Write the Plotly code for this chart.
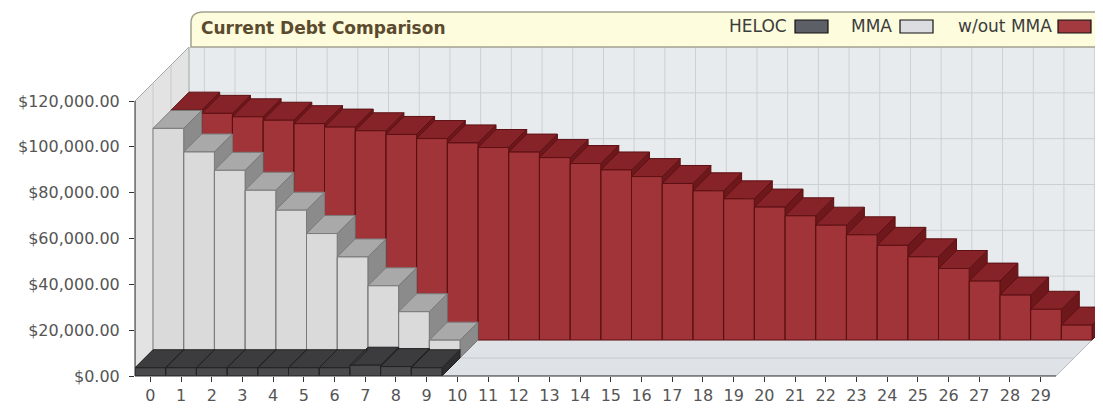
import plotly.graph_objects as go

# ---------------- data ----------------
categories = list(range(30))
heloc = [3600, 3600, 3600, 3600, 3600, 3600, 3600, 4700, 4100, 3600]
mma = [100200, 89900, 81900, 73200, 64500, 54300, 44100, 31500, 20200, 7800]
without_mma = [100300, 98900, 97400, 95900, 94400, 92900, 91300, 89700, 87900, 86000,
               84000, 82000, 79600, 77000, 74200, 71300, 68300, 65100, 61600, 58000,
               54200, 50100, 45900, 41300, 36300, 31200, 25700, 19600, 13400, 6500]
series_names = ["HELOC", "MMA", "w/out MMA"]
y_tick_values = [0, 20000, 40000, 60000, 80000, 100000, 120000]
title_text = "Current Debt Comparison"

# ---------------- geometry (target page pixels) ----------------
PAGE_W, PAGE_H = 1103, 408
BODY_OFF = 8                       # default body margin of the html page
PLOT_LEFT, PLOT_TOP, PLOT_BOTTOM = 135, 47, 376   # page pixels
FIG_W, FIG_H = PAGE_W - BODY_OFF, PAGE_H - BODY_OFF
M_L = PLOT_LEFT - BODY_OFF
M_T = PLOT_TOP - BODY_OFF
M_B = FIG_H - (PLOT_BOTTOM - BODY_OFF)
PLOT_W = FIG_W - M_L
PLOT_H = FIG_H - M_T - M_B
PX_PER_CAT = 30.7
DEPTH_PX = 18
N_ROWS = 3
X0 = -0.5
XSPAN = PLOT_W / PX_PER_CAT
X1 = X0 + XSPAN
PX_PER_VAL = (PLOT_H - N_ROWS * DEPTH_PX) / y_tick_values[-1]
DX = DEPTH_PX / PX_PER_CAT
DY = DEPTH_PX / PX_PER_VAL
YTOP = y_tick_values[-1] + N_ROWS * DY
X_END = categories[-1] + 0.5


def pxp(xp):
    return (xp - PLOT_LEFT) / PLOT_W


def pyp(yp):
    return (PLOT_BOTTOM - yp) / PLOT_H


styles = {
    "HELOC": dict(front="#4a4a4c", top="#3c3c3e", side="#2e2e30", edge="#222222"),
    "MMA": dict(front="#dadada", top="#a9a9a9", side="#8b8b8b", edge="#7a7a7a"),
    "w/out MMA": dict(front="#a13438", top="#862329", side="#6f181c", edge="#5c1013"),
}

fig = go.Figure()


def add_row(values, row, st):
    fx, fy, tx, ty, sx, sy = [], [], [], [], [], []
    for c, v in zip(categories, values):
        xl = c - 0.5 + row * DX
        xr = xl + 1
        y0 = row * DY
        y1 = y0 + v
        fx += [xl, xr, xr, xl, xl, None]
        fy += [y0, y0, y1, y1, y0, None]
        tx += [xl, xr, xr + DX, xl + DX, xl, None]
        ty += [y1, y1, y1 + DY, y1 + DY, y1, None]
        sx += [xr, xr + DX, xr + DX, xr, xr, None]
        sy += [y0, y0 + DY, y1 + DY, y1, y0, None]
    for xs, ys, col in [(sx, sy, st["side"]), (tx, ty, st["top"]), (fx, fy, st["front"])]:
        fig.add_trace(go.Scatter(x=xs, y=ys, mode="lines", fill="toself", fillcolor=col,
                                 line=dict(color=st["edge"], width=1),
                                 hoverinfo="skip", showlegend=False))


series_values = {"HELOC": heloc, "MMA": mma, "w/out MMA": without_mma}
for row in reversed(range(N_ROWS)):
    name = series_names[row]
    add_row(series_values[name], row, styles[name])

shapes = []
# back wall
bx0 = X0 + N_ROWS * DX
shapes.append(dict(type="rect", xref="x", yref="y", x0=bx0, x1=X1 + 2, y0=N_ROWS * DY, y1=YTOP,
                   fillcolor="#e8ebee", line=dict(width=0), layer="below"))
for v in y_tick_values[1:-1]:
    shapes.append(dict(type="line", xref="x", yref="y", x0=bx0, x1=X1 + 2,
                       y0=v + N_ROWS * DY, y1=v + N_ROWS * DY,
                       line=dict(color="#cbd0d5", width=1), layer="below"))
for c in categories:
    shapes.append(dict(type="line", xref="x", yref="y", x0=c + N_ROWS * DX, x1=c + N_ROWS * DX,
                       y0=N_ROWS * DY, y1=YTOP, line=dict(color="#cbd0d5", width=1), layer="below"))
# left wall
lw = (f"M {X0},0 L {X0},{y_tick_values[-1]} L {bx0},{YTOP} L {bx0},{N_ROWS * DY} Z")
shapes.append(dict(type="path", xref="x", yref="y", path=lw, fillcolor="#e3e3e3",
                   line=dict(color="#a5a5a5", width=1), layer="below"))
for r in range(1, N_ROWS):
    shapes.append(dict(type="line", xref="x", yref="y", x0=X0 + r * DX, x1=X0 + r * DX,
                       y0=r * DY, y1=y_tick_values[-1] + r * DY,
                       line=dict(color="#c9c9c9", width=1), layer="below"))
# floor
fl = (f"M {X0},0 L {X_END},0 L {X_END + N_ROWS * DX},{N_ROWS * DY} L {bx0},{N_ROWS * DY} Z")
shapes.append(dict(type="path", xref="x", yref="y", path=fl, fillcolor="#dfe3e7",
                   line=dict(color="#b5babf", width=1), layer="below"))
for r in range(1, N_ROWS):
    shapes.append(dict(type="line", xref="x", yref="y", x0=X0 + r * DX, x1=X_END + r * DX,
                       y0=r * DY, y1=r * DY, line=dict(color="#c4c9ce", width=1), layer="below"))

# axis lines (paper coords)
shapes.append(dict(type="line", xref="paper", yref="paper", x0=0, x1=0, y0=0,
                   y1=y_tick_values[-1] / YTOP, line=dict(color="#333333", width=1)))
shapes.append(dict(type="line", xref="paper", yref="paper", x0=0, x1=(X_END - X0) / XSPAN,
                   y0=0, y1=0, line=dict(color="#333333", width=1)))

# title box
tb = (f"M {pxp(191)},{pyp(47)} L {pxp(191)},{pyp(23)} Q {pxp(191)},{pyp(12)} {pxp(203)},{pyp(12)} "
      f"L {pxp(1110)},{pyp(12)} L {pxp(1110)},{pyp(47)} Z")
shapes.append(dict(type="path", xref="paper", yref="paper", path=tb, fillcolor="#fdfcdc",
                   line=dict(color="#a3a290", width=1.5)))

annotations = [dict(xref="paper", yref="paper", x=pxp(199), y=pyp(28), xanchor="left",
                    yanchor="middle", showarrow=False, text=f"<b>{title_text}</b>",
                    font=dict(family="DejaVu Sans", size=17, color="#5b4a2e"))]

legend_swatch = {"HELOC": "#5d5f66", "MMA": "#dcdde0", "w/out MMA": "#a33a40"}
legend_pos = {"HELOC": (789, 795), "MMA": (894, 900), "w/out MMA": (1054, 1058)}
for name in series_names:
    tx_right, sw_left = legend_pos[name]
    annotations.append(dict(xref="paper", yref="paper", x=pxp(tx_right), y=pyp(26),
                            xanchor="right", yanchor="middle", showarrow=False, text=name,
                            font=dict(family="DejaVu Sans", size=17, color="#3c3c3c")))
    shapes.append(dict(type="rect", xref="paper", yref="paper", x0=pxp(sw_left),
                       x1=pxp(sw_left + 33), y0=pyp(33), y1=pyp(20),
                       fillcolor=legend_swatch[name], line=dict(color="#111111", width=1.2)))

tickfont = dict(family="DejaVu Sans", size=16, color="#555555")
fig.update_layout(
    template="none",
    width=FIG_W, height=FIG_H,
    margin=dict(l=M_L, r=0, t=M_T, b=M_B, pad=0, autoexpand=False),
    paper_bgcolor="white", plot_bgcolor="rgba(0,0,0,0)",
    showlegend=False, hovermode=False,
    xaxis=dict(range=[X0, X1], tickmode="array", tickvals=categories,
               ticktext=[str(c) for c in categories], ticks="outside", ticklen=5,
               tickcolor="#333333", tickwidth=1, showline=False, showgrid=False,
               zeroline=False, tickfont=tickfont, automargin=False, fixedrange=True),
    yaxis=dict(range=[0, YTOP], tickmode="array", tickvals=y_tick_values,
               tickformat="$,.2f", ticks="outside", ticklen=5, tickcolor="#333333",
               tickwidth=1, showline=False, showgrid=False, zeroline=False,
               tickfont=tickfont, automargin=False, fixedrange=True, ticklabelstandoff=6),
    shapes=shapes,
    annotations=annotations,
)

fig.write_html("out.html")
